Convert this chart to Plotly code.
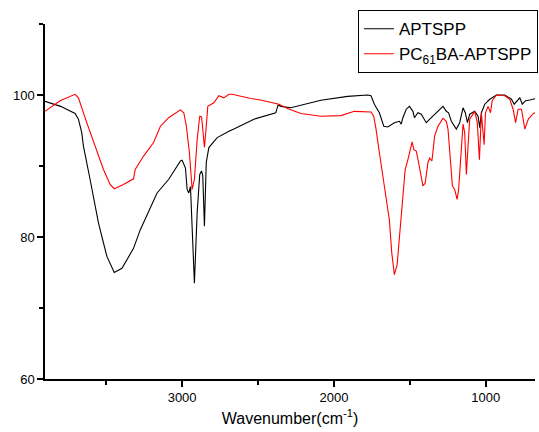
import plotly.graph_objects as go

black_wn = [3903, 3800, 3705, 3683, 3661, 3650, 3606, 3551, 3496, 3447, 3396, 3342, 3320, 3276, 3165, 3089, 3011, 3000, 2978, 2967, 2956, 2945, 2919, 2901, 2884, 2872, 2864, 2853, 2841, 2824, 2769, 2692, 2659, 2527, 2383, 2368, 2350, 2284, 2086, 1910, 1778, 1756, 1734, 1701, 1672, 1645, 1602, 1569, 1557, 1546, 1524, 1503, 1480, 1470, 1447, 1425, 1392, 1359, 1326, 1282, 1260, 1245, 1227, 1194, 1172, 1150, 1135, 1121, 1106, 1073, 1051, 1040, 1029, 1007, 974, 930, 875, 831, 813, 791, 776, 760, 738, 710, 672]
black_t = [99.1, 98.4, 97.4, 96.6, 94.7, 92.8, 88.1, 82.0, 77.3, 75.0, 75.6, 77.7, 78.4, 81.0, 86.2, 88.1, 90.7, 90.8, 89.7, 86.7, 86.2, 87.1, 73.5, 83.4, 88.8, 89.3, 88.6, 81.5, 90.5, 92.6, 94.0, 94.9, 95.2, 96.6, 97.5, 98.6, 98.4, 98.2, 99.25, 99.8, 100.0, 99.9, 98.7, 97.5, 95.6, 95.5, 96.1, 96.3, 95.9, 96.8, 98.0, 98.4, 97.7, 96.8, 97.5, 97.3, 96.1, 96.8, 97.5, 98.4, 97.7, 97.5, 96.3, 95.2, 96.1, 98.2, 97.5, 96.1, 97.3, 97.7, 97.0, 95.4, 97.5, 98.7, 99.4, 100.0, 100.0, 99.4, 98.7, 99.2, 99.6, 98.7, 99.2, 99.3, 99.5]

red_wn = [3903, 3804, 3705, 3683, 3628, 3573, 3518, 3474, 3447, 3386, 3320, 3309, 3254, 3188, 3143, 3089, 3011, 2989, 2972, 2952, 2934, 2919, 2901, 2884, 2872, 2864, 2853, 2841, 2831, 2791, 2758, 2725, 2692, 2670, 2615, 2549, 2483, 2417, 2362, 2306, 2218, 2086, 1954, 1866, 1782, 1756, 1738, 1723, 1701, 1678, 1657, 1635, 1619, 1602, 1584, 1562, 1546, 1531, 1513, 1485, 1474, 1458, 1443, 1425, 1414, 1399, 1381, 1370, 1355, 1337, 1315, 1282, 1260, 1249, 1234, 1220, 1205, 1189, 1179, 1166, 1150, 1139, 1128, 1117, 1106, 1073, 1056, 1042, 1029, 1020, 1011, 1002, 985, 969, 958, 930, 875, 842, 820, 804, 787, 765, 753, 743, 720, 687, 672]
red_t = [97.7, 99.2, 100.1, 99.6, 96.1, 92.8, 89.5, 87.4, 86.8, 87.4, 88.2, 89.5, 91.4, 93.3, 95.6, 96.8, 97.9, 97.5, 95.6, 91.9, 86.7, 88.1, 93.7, 97.0, 96.9, 95.2, 92.6, 95.6, 98.4, 98.9, 99.9, 99.6, 100.1, 100.1, 99.8, 99.5, 99.3, 99.0, 98.7, 98.1, 97.4, 97.0, 97.1, 97.7, 97.7, 97.6, 97.0, 95.2, 91.9, 88.6, 86.2, 82.4, 77.7, 74.7, 76.1, 81.5, 86.2, 89.5, 90.9, 93.4, 92.3, 92.1, 90.5, 88.6, 87.2, 87.6, 90.5, 91.1, 90.7, 94.2, 95.6, 96.7, 96.3, 95.2, 90.9, 87.2, 86.7, 85.3, 86.7, 91.4, 95.9, 94.7, 88.8, 92.8, 96.6, 97.7, 96.1, 90.9, 97.5, 95.2, 93.0, 97.5, 98.4, 97.5, 99.2, 100.0, 99.9, 99.4, 98.0, 96.1, 98.0, 98.0, 96.6, 95.2, 96.6, 97.4, 97.5]

x_ticks = [3000, 2000, 1000]
y_ticks = [60, 80, 100]

FONT = "Liberation Sans, Arial, sans-serif"

fig = go.Figure()
fig.add_trace(go.Scatter(x=black_wn, y=black_t, mode="lines", name="APTSPP",
                         line=dict(color="black", width=1.1)))
fig.add_trace(go.Scatter(x=red_wn, y=red_t, mode="lines", name="PC<sub>61</sub>BA-APTSPP",
                         line=dict(color="#ff0000", width=1.1)))

fig.update_layout(
    width=539, height=432,
    margin=dict(l=45, r=4, t=24, b=53, autoexpand=False),
    paper_bgcolor="white", plot_bgcolor="white",
    font=dict(family=FONT, color="black", size=13),
    showlegend=True,
    legend=dict(x=1.006, y=1.039, xanchor="right", yanchor="top",
                bordercolor="black", borderwidth=1, bgcolor="white",
                font=dict(family=FONT, size=17, color="black"),
                tracegroupgap=0, itemwidth=30),
    xaxis=dict(range=[3903, 676], tickvals=x_ticks, ticks="outside", ticklen=6,
               tickwidth=1.5, tickcolor="black", showline=True, linecolor="black",
               linewidth=1.5, showgrid=False, zeroline=False,
               tickfont=dict(size=13), automargin=False,
               minor=dict(tickvals=[3500, 2500, 1500], ticks="outside", ticklen=4,
                          tickwidth=1.5, tickcolor="black", showgrid=False),
               title=dict(text="Wavenumber(cm<sup>-1</sup>)", font=dict(size=16), standoff=8)),
    yaxis=dict(range=[60, 110], tickvals=y_ticks, ticks="outside", ticklen=6,
               tickwidth=1.5, tickcolor="black", showline=True, linecolor="black",
               linewidth=1.5, showgrid=False, zeroline=False,
               tickfont=dict(size=13), automargin=False,
               minor=dict(tickvals=[70, 90, 110], ticks="outside", ticklen=4,
                          tickwidth=1.5, tickcolor="black", showgrid=False)),
)

fig.write_html("out.html", config={"displayModeBar": False},
               post_script="document.body.style.margin='0';document.body.style.overflow='hidden';")
